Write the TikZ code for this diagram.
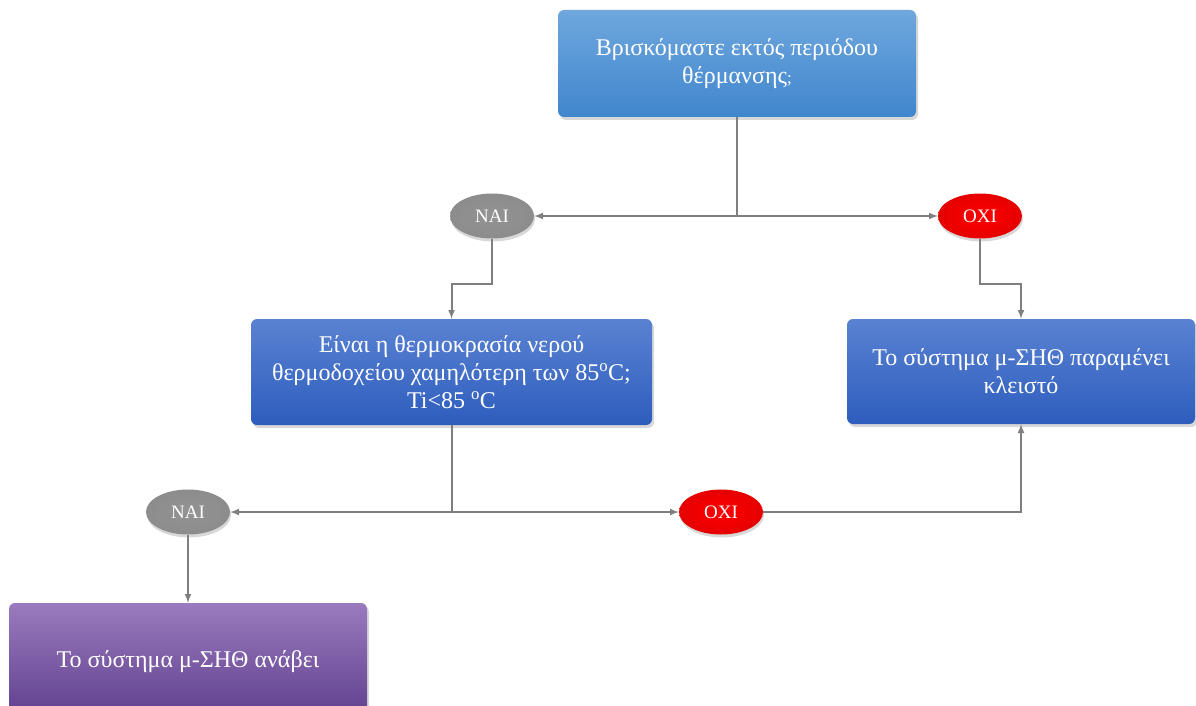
\documentclass[tikz,border=0pt]{standalone}
\usepackage{fontspec}
\setmainfont{Liberation Serif}
\usetikzlibrary{shapes.geometric,shadows,arrows}

\definecolor{lightblueTop}{HTML}{6FA7DE}
\definecolor{lightblueBot}{HTML}{4086CD}
\definecolor{blueTop}{HTML}{5A82D2}
\definecolor{blueBot}{HTML}{2D5DBD}
\definecolor{purpleTop}{HTML}{9A7BBE}
\definecolor{purpleBot}{HTML}{5E3E8C}
\definecolor{lineGray}{HTML}{7F7F7F}

\begin{document}
\begin{tikzpicture}[
                x=1pt, y=-1pt,
                >=latex,
                box/.style={rectangle,rounded corners=6pt,inner sep=0pt,align=center,text=white,
                    font=\fontsize{24}{28}\selectfont,
                    drop shadow={opacity=0.3,shadow xshift=2pt,shadow yshift=-3pt}},
                question/.style={box,top color=lightblueTop,bottom color=lightblueBot},
                answer/.style={box,top color=blueTop,bottom color=blueBot},
                result/.style={box,top color=purpleTop,bottom color=purpleBot},
                yes/.style={ellipse,inner sep=0pt,minimum width=84,minimum height=45,text=white,
                    font=\fontsize{19}{20}\selectfont,inner color=gray!85,outer color=gray!110!black,
                    drop shadow={opacity=0.3,shadow xshift=1pt,shadow yshift=-3pt}},
                no/.style={yes,inner color=red,outer color=red!90!black},
                link/.style={draw=lineGray,line width=2pt}
            ]
                \useasboundingbox (0,0) rectangle (1196,706);
                \fill[white] (0,0) rectangle (1196,706);

                \node[question,minimum width=358,minimum height=107] (season) at (737,63.5)
                    {Βρισκόμαστε εκτός περιόδου\\θέρμανσης{\fontsize{17}{28}\selectfont;}};
                \node[yes] (nai1) at (492,216) {NAI};
                \node[no] (oxi1) at (980,216) {OXI};
                \node[answer,minimum width=401,minimum height=106] (temp) at (451.5,372)
                    {Είναι η θερμοκρασία νερού\\θερμοδοχείου χαμηλότερη των 85\textsuperscript{o}C;\\Ti<85 \textsuperscript{o}C};
                \node[answer,minimum width=348,minimum height=105] (closed) at (1021,371.5)
                    {Το σύστημα μ-ΣΗΘ παραμένει\\κλειστό};
                \node[yes] (nai2) at (188,512) {NAI};
                \node[no] (oxi2) at (721,512) {OXI};
                \node[result,minimum width=358,minimum height=118] (on) at (188,662)
                    {Το σύστημα μ-ΣΗΘ ανάβει};

                \coordinate (split1) at (season.south |- nai1);
                \coordinate (split2) at (temp.south |- nai2);

                \draw[link] (season.south) -- (split1);
                \draw[link,->] (split1) -- (nai1.east);
                \draw[link,->] (split1) -- (oxi1.west);
                \draw[link,->] (nai1.south) -- ++(0,45) -| (temp.north);
                \draw[link,->] (oxi1.south) -- ++(0,45) -| (closed.north);
                \draw[link] (temp.south) -- (split2);
                \draw[link,->] (split2) -- (nai2.east);
                \draw[link,->] (split2) -- (oxi2.west);
                \draw[link,->] (oxi2.east) -| (closed.south);
                \draw[link,->] (nai2.south) -- (on.north);
            \end{tikzpicture}
\end{document}
